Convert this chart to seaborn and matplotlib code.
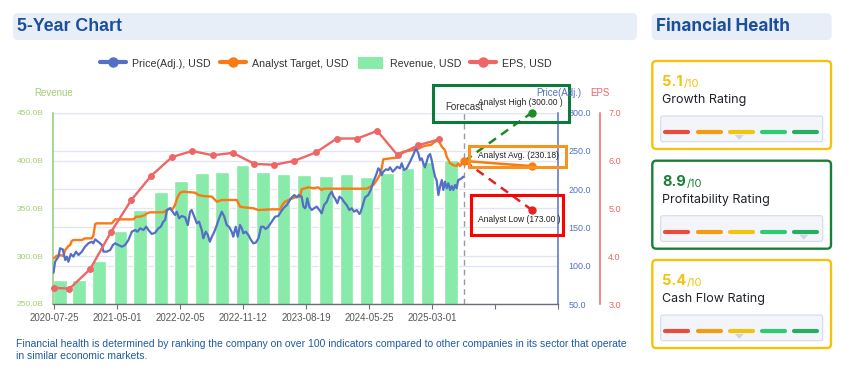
import matplotlib
matplotlib.use("Agg")
import numpy as np
import pandas as pd
import matplotlib.pyplot as plt
import seaborn as sns
from matplotlib.patches import FancyBboxPatch, Rectangle, Polygon, Patch
from matplotlib.lines import Line2D

sns.set_theme(style="white")
plt.rcParams["font.family"] = ["Liberation Sans", "DejaVu Sans"]

# ---------------- data ----------------
BASE = pd.Timestamp("2020-07-25")

rev_days = [25, 110, 199, 293, 381, 474, 562, 655, 745, 837, 927, 1018, 1110, 1207,
            1298, 1388, 1479, 1569, 1658, 1764]
rev_vals = [275.1, 275.1, 295.3, 326.3, 348.3, 367.4, 378.8, 387.3, 388.3, 395.3,
            388.3, 385.9, 384.9, 383.8, 385.9, 383.1, 387.3, 392.5, 398.0, 400.6]

eps_days = [-4, 67, 159, 251, 341, 430, 522, 612, 704, 793, 889, 976, 1065, 1163,
            1255, 1347, 1435, 1526, 1618, 1708]
eps_vals = [3.34, 3.32, 3.73, 4.50, 5.17, 5.68, 6.07, 6.20, 6.11, 6.16, 5.93, 5.91,
            5.99, 6.17, 6.46, 6.46, 6.62, 6.11, 6.32, 6.44]

price_days = [-4, 3, 18, 25, 37, 48, 55, 62, 73, 84, 96, 107, 122, 136, 151, 166, 173,
              181, 188, 200, 211, 218, 233, 248, 260, 270, 284, 300, 314, 329, 344, 359,
              369, 381, 396, 408, 418, 433, 448, 462, 473, 484, 492, 500, 514,
              536, 544, 554, 566, 581, 593, 603, 610, 622, 633, 643, 655, 662, 673, 682,
              691, 700, 711, 722, 732, 744, 755, 766, 776, 788, 795, 806, 815, 825, 833,
              840, 851, 862, 874, 884, 895, 907, 919, 929, 939, 951, 966, 981, 995, 1007,
              1018, 1033, 1047, 1055, 1067, 1077, 1087, 1099, 1107, 1114,
              1118, 1124, 1133, 1144, 1154, 1166, 1178, 1188, 1199, 1211, 1222, 1233,
              1240, 1247, 1258, 1267, 1277, 1287, 1299, 1311, 1322, 1332, 1344, 1356,
              1362, 1371, 1381, 1395, 1406, 1418, 1430, 1440, 1447, 1455, 1462, 1474,
              1484, 1492, 1504, 1514, 1524, 1536, 1544, 1554, 1566, 1581, 1595, 1607,
              1618, 1625, 1633, 1640, 1647, 1655, 1662, 1670, 1677, 1684, 1692, 1699,
              1707, 1714, 1722, 1729, 1736, 1744, 1751, 1759, 1766, 1773, 1781, 1788,
              1795, 1803, 1810, 1818]
price_vals = [90.9, 105.3, 111.9, 122.8, 121.4, 107.5, 111.9, 105.3, 115.3, 111.9, 118.4,
              114.0, 118.4, 124.9, 129.3, 131.4, 129.3, 134.5, 132.8, 130.1, 127.1, 118.4,
              118.4, 120.6, 127.1, 129.3, 127.1, 124.9, 127.1, 133.6, 144.5, 146.7, 144.5,
              148.9, 146.7, 151.0, 146.7, 141.5, 143.2, 148.9, 151.0, 157.6, 159.8, 172.8,
              175.1,
              166.3, 170.6, 162.0, 165.0, 163.3, 153.2, 170.6, 172.8, 164.1, 155.4, 157.6,
              146.7, 135.8, 144.5, 140.2, 131.4, 138.0, 144.5, 153.2, 162.0, 170.6, 164.1,
              153.2, 151.0, 144.5, 138.0, 151.0, 138.0, 153.2, 148.9, 142.4, 144.5, 140.2,
              133.6, 129.3, 130.1, 135.8, 151.0, 151.0, 148.0, 151.0, 157.6, 164.1, 165.0,
              170.6, 175.1, 179.4, 186.0, 189.4, 192.4, 189.4, 192.4, 190.3, 177.2, 175.1,
              177.2, 188.1, 177.2, 172.8, 175.1, 177.2, 172.8, 168.5, 179.4, 183.7, 192.4,
              196.8, 191.1, 188.1, 181.6, 190.3, 188.1, 183.7, 179.4, 172.8, 175.1, 170.6,
              172.8, 167.6, 170.6, 179.4, 189.4, 192.4, 199.0, 209.9, 218.6, 227.3, 225.1,
              218.6, 222.9, 226.0, 225.1, 228.6, 222.9, 226.0, 229.4, 227.3, 233.9, 225.1,
              227.3, 236.0, 244.7, 253.5, 246.9, 238.2, 240.3, 233.9, 228.6, 236.0, 243.4,
              246.0, 238.2, 227.3, 216.4, 212.0, 192.4, 203.3, 212.0, 199.0, 209.9, 201.2,
              207.7, 199.0, 204.2, 199.0, 205.5, 201.2, 212.0, 213.0, 214.3, 216.4]

target_days = [-1, 8, 25, 40, 48, 62, 70, 77, 84, 122, 136, 166, 173, 181, 188, 255, 270,
               351, 363, 381, 403, 411, 425, 484, 500, 514, 526, 536, 547, 559, 573, 625,
               640, 662, 700, 722, 744, 811, 825, 840, 884, 907, 966, 1003, 1013, 1025,
               1047, 1070, 1092, 1099, 1129, 1151, 1173, 1188, 1196, 1388, 1406, 1418,
               1433, 1447, 1455, 1462, 1492, 1522, 1536, 1551, 1595, 1607, 1622, 1636,
               1651, 1673, 1692, 1707, 1722, 1736, 1744, 1759, 1773, 1788, 1795, 1803,
               1815, 1823]
target_vals = [109.7, 112.7, 114.0, 112.7, 120.6, 125.8, 127.1, 132.3, 133.6, 133.6,
               135.8, 135.8, 138.9, 154.5, 155.4, 155.4, 160.6, 160.6, 164.1, 164.1, 166.3,
               168.5, 169.8, 169.8, 172.8, 175.1, 174.1, 179.4, 189.4, 195.5, 196.8, 195.5,
               192.4, 191.1, 190.3, 183.7, 185.9, 185.9, 177.2, 176.4, 175.1, 172.8, 173.7,
               173.7, 179.4, 183.7, 186.8, 189.4, 190.3, 199.9, 202.5, 201.2, 202.5, 199.0,
               200.7, 200.7, 203.3, 205.5, 212.0, 218.6, 227.3, 239.1, 240.3, 241.2, 246.9,
               249.1, 251.2, 252.2, 253.5, 255.6, 257.0, 257.8, 262.1, 264.3, 255.6, 251.2,
               242.5, 233.9, 231.6, 230.3, 233.9, 230.3, 234.7, 236.9]

forecast_day = 1823
forecast_end_day = 2122
analyst_high = 300.00
analyst_avg = 230.18
analyst_low = 173.00

xtick_days = [0, 280, 560, 840, 1120, 1400, 1680, 1960, 2240]
xtick_labels = ["2020-07-25", "2021-05-01", "2022-02-05", "2022-11-12", "2023-08-19",
                "2024-05-25", "2025-03-01", "", ""]

rev_ticks = [250, 300, 350, 400, 450]
price_ticks = [50, 100, 150, 200, 250, 300]
eps_ticks = [3, 4, 5, 6, 7]

legend_labels = ["Price(Adj.), USD", "Analyst Target, USD", "Revenue, USD", "EPS, USD"]

rating_names = ["Growth Rating", "Profitability Rating", "Cash Flow Rating"]
rating_vals = [5.1, 8.9, 5.4]

footer_lines = ["Financial health is determined by ranking the company on over 100 indicators compared to other companies in its sector that operate",
                "in similar economic markets."]

# ---------------- styling ----------------
C_PRICE = "#5470c6"
C_TARGET = "#fb7a14"
C_REV = "#88ebaa"
C_EPS = "#ee6666"
C_REVAX = "#a5cd72"
C_GRID = "#e0e6f1"
C_HIGH = "#1e8c1e"
C_LOW = "#e42222"

def d(days):
    return BASE + pd.to_timedelta(np.asarray(days), unit="D")

W, H = 853, 376
fig = plt.figure(figsize=(W / 100, H / 100), dpi=100)
fig.patch.set_facecolor("white")

L, R, T, B = 53.3, 558.3, 112.7, 304.0
rect = [L / W, 1 - B / H, (R - L) / W, (B - T) / H]

ax_grid = fig.add_axes(rect)
ax_rev = fig.add_axes(rect, sharex=ax_grid)
ax_rev.patch.set_visible(False)
ax_price = ax_rev.twinx()
ax_eps = ax_rev.twinx()

# grid host for price scale
ax_grid.set_ylim(50, 300)
ax_grid.set_yticks(price_ticks)
ax_grid.yaxis.grid(True, color=C_GRID, lw=0.9)
ax_grid.xaxis.grid(False)
ax_grid.tick_params(left=False, bottom=False, labelleft=False, labelbottom=False)
for s in ax_grid.spines.values():
    s.set_visible(False)

# revenue bars
ax_rev.bar(d(rev_days), rev_vals, width=60, color=C_REV, zorder=2)
ax_rev.set_ylim(250, 450)
ax_rev.set_yticks(rev_ticks)
ax_rev.set_yticklabels([f"{v:.1f}B" for v in rev_ticks])
ax_rev.set_axisbelow(True)
ax_rev.yaxis.grid(True, color=C_GRID, lw=0.9)
ax_rev.xaxis.grid(False)
ax_rev.tick_params(axis="y", length=0, pad=7, labelsize=6, labelcolor=C_REVAX)
ax_rev.set_xlim(BASE - pd.Timedelta(days=5), BASE + pd.Timedelta(days=2240))
ax_rev.set_xticks(d(xtick_days))
ax_rev.set_xticklabels(xtick_labels)
ax_rev.tick_params(axis="x", bottom=True, length=3.5, width=0.8, color="#6e7079",
                   pad=3, labelsize=7, labelcolor="#555555")
for k in ("top", "right"):
    ax_rev.spines[k].set_visible(False)
ax_rev.spines["left"].set_color("#91cc75")
ax_rev.spines["left"].set_linewidth(1.1)
ax_rev.spines["bottom"].set_color("#6e7079")
ax_rev.spines["bottom"].set_linewidth(1.0)
ax_rev.axvline(d([forecast_day])[0], color="#9a9a9a", lw=1.0, ls=(0, (4, 3)), zorder=3)
ax_rev.text(d([forecast_day])[0], 1.03, "Forecast", transform=ax_rev.get_xaxis_transform(),
            ha="center", va="center", fontsize=7, color="#333333")

# price & target
sns.lineplot(x=d(target_days), y=target_vals, ax=ax_price, color=C_TARGET, lw=1.7, sort=False)
sns.lineplot(x=d(price_days), y=price_vals, ax=ax_price, color=C_PRICE, lw=1.6, sort=False)
fc0 = d([forecast_day])[0]
fc1 = d([forecast_end_day])[0]
start_val = target_vals[-1]
ax_price.plot([fc0, fc1], [start_val, analyst_high], color=C_HIGH, lw=1.8, ls=(0, (3.5, 2.5)),
              marker="o", ms=5, markevery=[1], clip_on=False, zorder=4)
ax_price.plot([fc0, fc1], [start_val, analyst_low], color=C_LOW, lw=1.8, ls=(0, (3.5, 2.5)),
              marker="o", ms=5, markevery=[1], clip_on=False, zorder=4)
ax_price.plot([fc0, fc1], [start_val, analyst_avg], color=C_TARGET, lw=1.8,
              marker="o", ms=5, markevery=[0, 1], clip_on=False, zorder=5)
ax_price.set_ylim(50, 300)
ax_price.set_yticks(price_ticks)
ax_price.set_yticklabels([f"{v:.1f}" for v in price_ticks])
ax_price.tick_params(axis="y", length=0, pad=7.5, labelsize=6.5, labelcolor=C_PRICE)
ax_price.grid(False)
for k in ("top", "left", "bottom"):
    ax_price.spines[k].set_visible(False)
ax_price.spines["right"].set_color(C_PRICE)
ax_price.spines["right"].set_linewidth(1.1)
ax_price.set_xlabel("")
ax_price.set_ylabel("")

# EPS
sns.lineplot(x=d(eps_days), y=eps_vals, ax=ax_eps, color=C_EPS, lw=1.7, marker="o",
             markersize=5, markeredgewidth=0, sort=False)
for ln in ax_eps.lines:
    ln.set_clip_on(False)
ax_eps.set_ylim(3, 7)
ax_eps.set_yticks(eps_ticks)
ax_eps.set_yticklabels([f"{v:.1f}" for v in eps_ticks])
ax_eps.tick_params(axis="y", length=0, pad=6, labelsize=6.5, labelcolor=C_EPS)
ax_eps.grid(False)
ax_eps.spines["right"].set_position(("outward", 30))
ax_eps.spines["right"].set_color(C_EPS)
ax_eps.spines["right"].set_linewidth(1.1)
for k in ("top", "left", "bottom"):
    ax_eps.spines[k].set_visible(False)
ax_eps.set_xlabel("")
ax_eps.set_ylabel("")
ax_rev.set_xlabel("")

# ---------------- overlay ----------------
ov = fig.add_axes([0, 0, 1, 1], zorder=20)
ov.set_xlim(0, W)
ov.set_ylim(H, 0)
ov.axis("off")
ov.patch.set_visible(False)

def rbox(x, y, w, h, fc, ec="none", lw=0, r=5):
    ov.add_patch(FancyBboxPatch((x, y), w, h, boxstyle=f"round,pad=0,rounding_size={r}",
                                fc=fc, ec=ec, lw=lw))

# title boxes
rbox(13, 13, 624, 27, "#e8eef7", r=5)
ov.text(17, 26.5, "5-Year Chart", fontsize=12.8, fontweight="bold", color="#1a4f9c",
        va="center", ha="left")
rbox(651.7, 13.3, 180, 26.7, "#e8eef7", r=5)
ov.text(656, 26.7, "Financial Health", fontsize=12.3, fontweight="bold", color="#1a4f9c",
        va="center", ha="left", family=["Inter", "DejaVu Sans"])

# axis titles
ov.text(53.3, 92.7, "Revenue", fontsize=7, color=C_REVAX, ha="center", va="center")
ov.text(559, 92.7, "Price(Adj.)", fontsize=7, color=C_PRICE, ha="center", va="center")
ov.text(600, 92.7, "EPS", fontsize=7, color=C_EPS, ha="center", va="center")

# annotation boxes
ov.add_patch(Rectangle((433.3, 85), 135.4, 37.3, fill=False, ec="#0b7a3a", lw=2.2))
ov.add_patch(Rectangle((469, 145.7), 96.7, 21.6, fill=False, ec="#f7941d", lw=2.2))
ov.add_patch(Rectangle((471, 195), 92.3, 40, fill=False, ec="#ff0000", lw=2.2))
ov.text(478, 102.3, f"Analyst High ({analyst_high:.2f} )", fontsize=6.15, color="#222222",
        va="center", ha="left")
ov.text(478.3, 155.3, f"Analyst Avg. ({analyst_avg:.2f})", fontsize=6.15, color="#222222",
        va="center", ha="left")
ov.text(478.3, 220, f"Analyst Low ({analyst_low:.2f} )", fontsize=6.15, color="#222222",
        va="center", ha="left")

# footer
ov.text(15.6, 344.3, footer_lines[0], fontsize=7.5, color="#1f5aa6", va="center", ha="left")
ov.text(15.6, 355.7, footer_lines[1], fontsize=7.5, color="#1f5aa6", va="center", ha="left")

# rating cards
seg_colors = ["#e74c3c", "#f39c12", "#f1c40f", "#2ecc71", "#27ae60"]
card_tops = [61.0, 160.7, 260.0]
for top, name, val in zip(card_tops, rating_names, rating_vals):
    col = "#1a7f37" if val >= 7 else "#f4c20d"
    rbox(652.3, top, 178.7, 88, "white", ec=col, lw=1.7, r=4)
    t1 = ov.text(662.3, top + 25, f"{val:.1f}", fontsize=10.5, fontweight="bold", color=col,
                 va="baseline", ha="left", family=["Inter", "DejaVu Sans"])
    ov.annotate("/10", xy=(1, 0), xycoords=t1, xytext=(0.3, 0), textcoords="offset points",
                fontsize=8, color=col, va="bottom", ha="left",
                family=["Inter", "DejaVu Sans"])
    ov.text(662.3, top + 39, name, fontsize=9, color="#1f2328", va="center", ha="left",
            family=["Inter", "DejaVu Sans"])
    rbox(660.7, top + 55, 162, 25.7, "#f3f5fa", ec="#d3dcea", lw=0.8, r=2)
    by = top + 71
    for i, c in enumerate(seg_colors):
        x0 = 663.3 + i * 32.25
        ov.plot([x0 + 2, x0 + 25], [by, by], color=c, lw=3, solid_capstyle="round")
    idx = min(int(val // 2), 4)
    cx = 663.3 + idx * 32.25 + 11.5
    ov.add_patch(Polygon([(cx - 4.5, by + 3), (cx + 4.5, by + 3), (cx, by + 8)],
                         closed=True, fc="#cdd6e5", ec="none"))

# legend
handles = [
    Line2D([0], [0], color=C_PRICE, lw=3, marker="o", ms=6.5),
    Line2D([0], [0], color=C_TARGET, lw=3, marker="o", ms=6.5),
    Patch(facecolor=C_REV, edgecolor="none"),
    Line2D([0], [0], color=C_EPS, lw=3, marker="o", ms=6.5),
]
fig.legend(handles, legend_labels, loc="center", bbox_to_anchor=(326 / W, 1 - 63 / H),
           ncol=4, frameon=False, fontsize=7.7, handlelength=2.4, handleheight=1.3,
           handletextpad=0.6, columnspacing=0.85, labelcolor="#333333")

fig.savefig("out.png", dpi=100, facecolor="white")
